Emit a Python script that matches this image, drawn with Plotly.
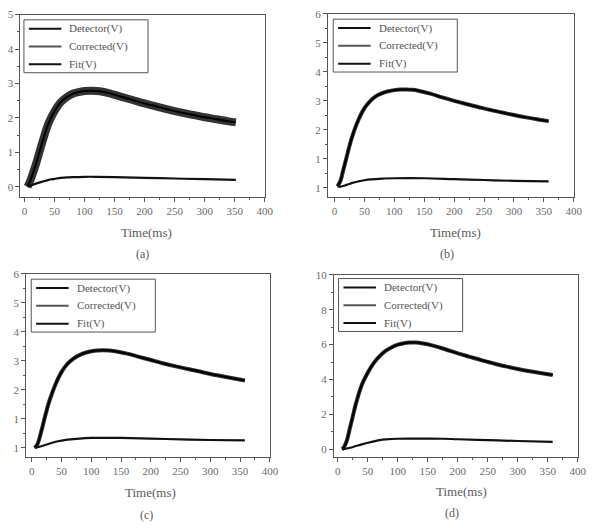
import plotly.graph_objects as go

W, H = 598, 528

# ---------------- data ----------------
# (a)
t_a = [5, 10, 15, 20, 30, 40, 50, 60, 70, 80, 90, 100, 110, 120, 130, 140, 160, 180,
       200, 220, 240, 260, 280, 300, 320, 340, 352]
upper_a = [0.0, 0.2, 0.45, 0.72, 1.32, 1.85, 2.2, 2.45, 2.6, 2.7, 2.75, 2.78, 2.79, 2.78,
           2.76, 2.72, 2.62, 2.52, 2.42, 2.33, 2.24, 2.16, 2.09, 2.02, 1.96, 1.9, 1.87]
tl_a = [5, 10, 20, 30, 40, 50, 60, 70, 80, 100, 120, 150, 200, 250, 300, 352]
lower_a = [0.0, 0.04, 0.1, 0.15, 0.2, 0.23, 0.26, 0.27, 0.28, 0.29, 0.29, 0.28, 0.26,
           0.24, 0.22, 0.2]

# (b)
t_b = [5, 10, 15, 20, 25, 30, 40, 50, 60, 70, 80, 90, 100, 110, 120, 130, 140, 160, 180,
       200, 220, 240, 260, 280, 300, 320, 340, 358]
upper_b = [0.05, 0.25, 0.65, 1.05, 1.45, 1.8, 2.35, 2.75, 3.0, 3.17, 3.27, 3.33, 3.37,
           3.39, 3.39, 3.38, 3.35, 3.25, 3.12, 3.0, 2.89, 2.79, 2.69, 2.6, 2.51, 2.43,
           2.36, 2.3]
tl_b = [5, 10, 20, 30, 40, 50, 60, 80, 100, 150, 200, 250, 300, 358]
lower_b = [0.05, 0.04, 0.1, 0.17, 0.22, 0.26, 0.29, 0.32, 0.33, 0.33, 0.3, 0.27, 0.24, 0.22]

# (c)
t_c = [5, 10, 15, 20, 25, 30, 40, 50, 60, 70, 80, 90, 100, 110, 120, 130, 140, 160, 180,
       200, 220, 240, 260, 280, 300, 320, 340, 358]
upper_c = [0.0, 0.15, 0.5, 0.9, 1.3, 1.65, 2.2, 2.62, 2.9, 3.08, 3.2, 3.28, 3.33, 3.36,
           3.37, 3.36, 3.33, 3.25, 3.14, 3.03, 2.92, 2.82, 2.73, 2.64, 2.55, 2.47, 2.39,
           2.32]
tl_c = [5, 10, 20, 30, 40, 50, 60, 80, 100, 150, 200, 250, 300, 358]
lower_c = [0.0, 0.02, 0.08, 0.15, 0.21, 0.25, 0.28, 0.32, 0.34, 0.34, 0.32, 0.29, 0.27, 0.26]

# (d)
t_d = [7, 10, 15, 20, 25, 30, 40, 50, 60, 70, 80, 90, 100, 110, 120, 130, 140, 160, 180,
       200, 220, 240, 260, 280, 300, 320, 340, 358]
upper_d = [0.0, 0.1, 0.5, 1.2, 1.9, 2.6, 3.7, 4.4, 4.95, 5.35, 5.65, 5.85, 6.0, 6.08,
           6.12, 6.12, 6.08, 5.93, 5.72, 5.5, 5.3, 5.1, 4.92, 4.75, 4.6, 4.47, 4.36, 4.26]
tl_d = [7, 10, 20, 30, 40, 50, 60, 70, 80, 100, 120, 150, 175, 200, 250, 300, 358]
lower_d = [0.0, 0.0, 0.08, 0.18, 0.28, 0.37, 0.45, 0.52, 0.56, 0.6, 0.61, 0.61, 0.6,
           0.57, 0.52, 0.47, 0.42]

series_names = ["Detector(V)", "Corrected(V)", "Fit(V)"]
x_tick_vals = [0, 50, 100, 150, 200, 250, 300, 350, 400]
y_ticks_a = ([0, 1, 2, 3, 4, 5], ["0", "1", "2", "3", "4", "5"])
y_ticks_b = ([0, 1, 2, 3, 4, 5, 6], ["1", "1", "2", "3", "4", "5", "6"])
y_ticks_c = ([0, 1, 2, 3, 4, 5, 6], ["1", "1", "2", "3", "4", "5", "6"])
y_ticks_d = ([0, 2, 4, 6, 8, 10], ["0", "2", "4", "6", "8", "10"])
captions = ["(a)", "(b)", "(c)", "(d)"]

# ---------------- layout geometry (pixels) ----------------
panels = [
    dict(t=t_a, up=upper_a, tl=tl_a, lo=lower_a, yt=y_ticks_a, yr=[-0.3, 5], xr=[-7, 400],
         box=(20.7, 268.7, 8.7, 193.3), ymin=0.5, band=8, leg=(24.3, 14),
         title=(149, 229), cap=(144.3, 251)),
    dict(t=t_b, up=upper_b, tl=tl_b, lo=lower_b, yt=y_ticks_b, yr=[-0.3, 6], xr=[-11, 400],
         box=(333, 582.5, 8, 192.7), ymin=0.5, band=4, leg=(338.3, 13.3),
         title=(462, 229), cap=(454, 251)),
    dict(t=t_c, up=upper_c, tl=tl_c, lo=lower_c, yt=y_ticks_c, yr=[-0.3, 6], xr=[-9.3, 400],
         box=(26.7, 274, 271, 455.7), ymin=0.5, band=4, leg=(31.7, 276.3),
         title=(152.5, 492), cap=(149, 515)),
    dict(t=t_d, up=upper_d, tl=tl_d, lo=lower_d, yt=y_ticks_d, yr=[-0.42, 10], xr=[-6.6, 400],
         box=(339, 586.7, 272, 455.7), ymin=1, band=4, leg=(343.7, 275.7),
         title=(468.5, 491), cap=(458.7, 513)),
]

FONT = "Liberation Serif, DejaVu Serif, serif"
AX = "#555555"
TK = "#6a6a6a"
LEG_W, LEG_H = 126, 53.5
LEG_ROWS = [9, 27, 45]
LEG_COLORS = ["#111111", "#555555", "#111111"]

fig = go.Figure()
layout = dict(
    width=W, height=H, margin=dict(l=0, r=0, t=0, b=0),
    paper_bgcolor="white", plot_bgcolor="white", showlegend=False,
    font=dict(family=FONT, size=11, color=TK),
)
annotations = []
shapes = []


def px(x):
    return x / W


def py(y):
    return 1 - y / H


for i, p in enumerate(panels, start=1):
    xs = "x" if i == 1 else f"x{i}"
    ys = "y" if i == 1 else f"y{i}"
    # Corrected (noisy band)
    fig.add_trace(go.Scatter(x=p["t"], y=p["up"], mode="lines", line_shape="spline",
                             name=series_names[1],
                             line=dict(color="#333333", width=p["band"]), xaxis=xs, yaxis=ys))
    # Fit
    fig.add_trace(go.Scatter(x=p["t"], y=p["up"], mode="lines", line_shape="spline",
                             name=series_names[2],
                             line=dict(color="#000000", width=2), xaxis=xs, yaxis=ys))
    # Detector (lower)
    fig.add_trace(go.Scatter(x=p["tl"], y=p["lo"], mode="lines", line_shape="spline",
                             name=series_names[0],
                             line=dict(color="#111111", width=2.2), xaxis=xs, yaxis=ys))

    x0, x1, ytop, ybot = p["box"]
    xk = "xaxis" if i == 1 else f"xaxis{i}"
    yk = "yaxis" if i == 1 else f"yaxis{i}"
    layout[xk] = dict(domain=[px(x0), px(x1)], anchor=ys, range=p["xr"], tickvals=x_tick_vals,
                      ticks="outside", ticklen=4, tickcolor=AX, showline=True,
                      linecolor=AX, linewidth=1, mirror=True, showgrid=False, zeroline=False,
                      tickfont=dict(family=FONT, size=11, color=TK),
                      minor=dict(dtick=25, tick0=0, ticks="outside", ticklen=2, tickcolor=AX))
    layout[yk] = dict(domain=[py(ybot), py(ytop)], anchor=xs, range=p["yr"],
                      tickvals=p["yt"][0], ticktext=p["yt"][1], ticks="outside", ticklen=4,
                      tickcolor=AX, showline=True, linecolor=AX, linewidth=1, mirror=True,
                      showgrid=False, zeroline=False,
                      tickfont=dict(family=FONT, size=11, color=TK),
                      minor=dict(dtick=p["ymin"], tick0=0, ticks="outside", ticklen=2,
                                 tickcolor=AX))
    # top/right inward ticks
    j = i + 4
    layout[f"xaxis{j}"] = dict(overlaying=xs, side="top", anchor=ys, range=p["xr"],
                               tickvals=x_tick_vals, ticks="inside", ticklen=3,
                               tickcolor=AX, showticklabels=False, showgrid=False,
                               zeroline=False, showline=False,
                               minor=dict(dtick=25, tick0=0, ticks="inside", ticklen=2,
                                          tickcolor=AX))
    layout[f"yaxis{j}"] = dict(overlaying=ys, side="right", anchor=xs, range=p["yr"],
                               tickvals=p["yt"][0], ticks="inside", ticklen=3,
                               tickcolor=AX, showticklabels=False, showgrid=False,
                               zeroline=False, showline=False,
                               minor=dict(dtick=p["ymin"], tick0=0, ticks="inside",
                                          ticklen=2, tickcolor=AX))

    # legend box drawn in paper space
    lx, ly = p["leg"]
    shapes.append(dict(type="rect", xref="paper", yref="paper",
                       x0=px(lx), x1=px(lx + LEG_W), y0=py(ly + LEG_H), y1=py(ly),
                       line=dict(color=AX, width=1), fillcolor="white", layer="above"))
    for k, (name, col) in enumerate(zip(series_names, LEG_COLORS)):
        yy = ly + LEG_ROWS[k]
        shapes.append(dict(type="line", xref="paper", yref="paper",
                           x0=px(lx + 5), x1=px(lx + 38), y0=py(yy), y1=py(yy),
                           line=dict(color=col, width=2), layer="above"))
        annotations.append(dict(text=name, x=px(lx + 44), y=py(yy), xref="paper",
                                yref="paper", showarrow=False, xanchor="left",
                                yanchor="middle",
                                font=dict(family=FONT, size=11, color="#555555")))

    tx, ty = p["title"]
    annotations.append(dict(text="Time(ms)", x=px(tx), y=py(ty), xref="paper",
                            yref="paper", showarrow=False, xanchor="center",
                            yanchor="middle",
                            font=dict(family=FONT, size=13, color="#5a5a5a")))
    cx, cy = p["cap"]
    annotations.append(dict(text=captions[i - 1], x=px(cx), y=py(cy), xref="paper",
                            yref="paper", showarrow=False, xanchor="center",
                            yanchor="middle",
                            font=dict(family=FONT, size=12, color="#5a5a5a")))

layout["annotations"] = annotations
layout["shapes"] = shapes
fig.update_layout(**layout)
fig.write_html("out.html")
